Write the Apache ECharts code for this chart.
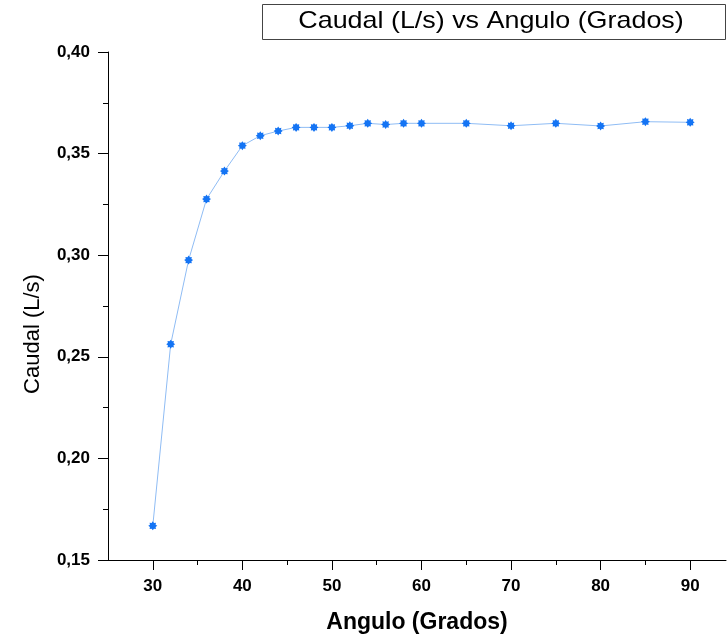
<!DOCTYPE html>
<html>
<head>
<meta charset="utf-8">
<script src="https://cdn.jsdelivr.net/npm/echarts@6/dist/echarts.min.js"></script>
<style>html,body{margin:0;padding:0;background:#fff}#c{width:727px;height:638px}</style>
</head>
<body>
<div id="c"></div>
<script>
var angles = [30, 32, 34, 36, 38, 40, 42, 44, 46, 48, 50, 52, 54, 56, 58, 60, 65, 70, 75, 80, 85, 90];
var caudal = [0.1668, 0.2562, 0.2976, 0.3276, 0.3414, 0.3539, 0.3588, 0.3611, 0.3629, 0.3629, 0.3629, 0.3637, 0.3649, 0.3643, 0.3649, 0.3649, 0.3649, 0.3637, 0.3649, 0.3636, 0.3657, 0.3654];
var xTickLabels = [30, 40, 50, 60, 70, 80, 90];
var xMinorTicks = [35, 45, 55, 65, 75, 85];
var titleText = 'Caudal (L/s) vs Angulo (Grados)';
var xName = 'Angulo (Grados)';
var yName = 'Caudal (L/s)';

// star / asterisk-like marker path
function starPath(n, rOut, rIn) {
  var d = '';
  for (var i = 0; i < 2 * n; i++) {
    var r = i % 2 === 0 ? rOut : rIn;
    var a = Math.PI * i / n - Math.PI / 2;
    var x = (50 + r * Math.cos(a)).toFixed(2), y = (50 + r * Math.sin(a)).toFixed(2);
    d += (i === 0 ? 'M' : 'L') + x + ' ' + y + ' ';
  }
  return 'path://' + d + 'Z';
}

var chart = echarts.init(document.getElementById('c'), null, {renderer: 'canvas'});
var data = angles.map(function (a, i) { return [a, caudal[i]]; });
var tickFont = {fontFamily: 'Liberation Sans, Arial', fontWeight: 'bold', fontSize: 17, color: '#000'};
chart.setOption({
  animation: false,
  grid: {left: 108, right: 1, top: 52, bottom: 78, containLabel: false, outerBoundsMode: 'none'},
  graphic: [
    {type: 'rect', shape: {x: 262.5, y: 4.5, width: 463, height: 35}, style: {fill: '#fff', stroke: '#444', lineWidth: 1}},
    {type: 'text', x: 491, y: 21.5, scaleX: 1.12, style: {text: titleText, fontFamily: 'Liberation Sans, Arial', fontSize: 24, fill: '#000', align: 'center', verticalAlign: 'middle'}}
  ],
  xAxis: [{
    type: 'value', min: 25, max: 94, position: 'bottom',
    name: xName, nameLocation: 'middle', nameGap: 51,
    nameTextStyle: {fontFamily: 'Liberation Sans, Arial', fontWeight: 'bold', fontSize: 23, color: '#000'},
    axisLine: {show: true, lineStyle: {color: '#000', width: 1}},
    axisTick: {show: true, inside: false, length: 10, customValues: xTickLabels, lineStyle: {color: '#000'}},
    axisLabel: Object.assign({customValues: xTickLabels, margin: 18}, tickFont),
    splitLine: {show: false}
  }, {
    type: 'value', min: 25, max: 94, position: 'bottom',
    axisLine: {show: false},
    axisTick: {show: true, inside: false, length: 5, customValues: xMinorTicks, lineStyle: {color: '#000'}},
    axisLabel: {show: false},
    splitLine: {show: false}
  }],
  yAxis: {
    type: 'value', min: 0.15, max: 0.40, interval: 0.05,
    name: yName, nameLocation: 'middle', nameGap: 64,
    nameTextStyle: {fontFamily: 'Liberation Sans, Arial', fontSize: 22, color: '#000', padding: [0, 56, 0, 0]},
    axisLine: {show: true, lineStyle: {color: '#000', width: 1}},
    axisTick: {show: true, inside: false, length: 10, lineStyle: {color: '#000'}},
    minorTick: {show: true, splitNumber: 2, length: 5, lineStyle: {color: '#000'}},
    axisLabel: Object.assign({margin: 18, formatter: function (v) { return v.toFixed(2).replace('.', ','); }}, tickFont),
    splitLine: {show: false}
  },
  series: [{
    type: 'line', xAxisIndex: 0, data: data,
    symbol: starPath(8, 50, 34), symbolSize: 9,
    itemStyle: {color: '#1474f4'},
    lineStyle: {color: '#8fbcf4', width: 1},
    showSymbol: true
  }]
});
</script>
</body>
</html>
